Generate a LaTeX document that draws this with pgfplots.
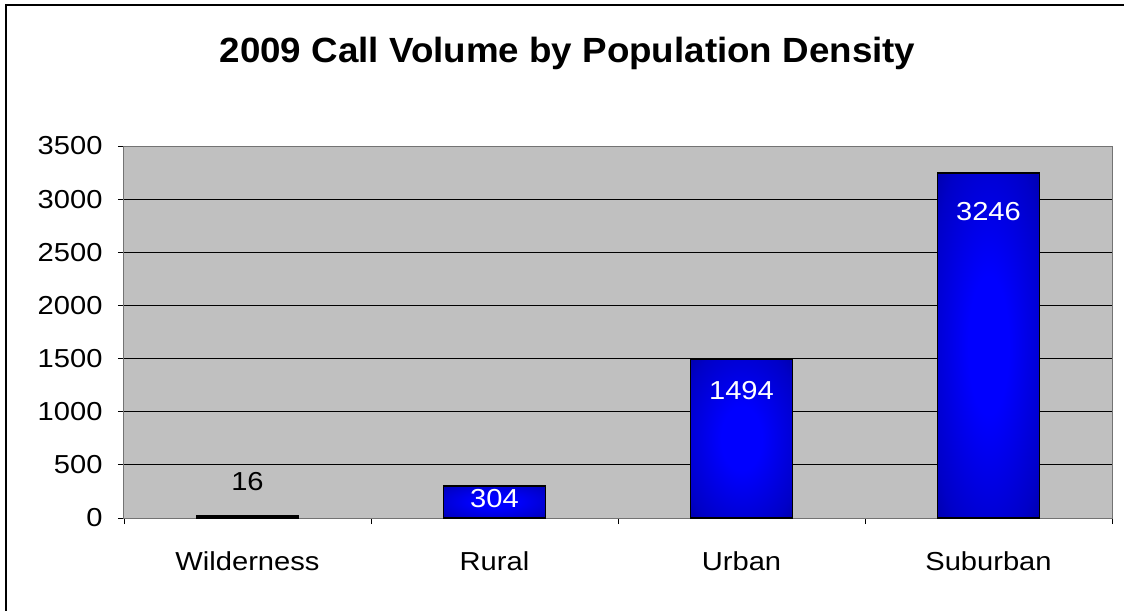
\documentclass[border=0pt]{standalone}
\usepackage{fontspec}
\setmainfont[FakeStretch=1.12]{Liberation Sans}
\newfontfamily\titlefont[FakeStretch=1.05]{Liberation Sans}
\usepackage{pgfplots}
\pgfplotsset{compat=1.18}
\definecolor{plotbg}{RGB}{192,192,192}
\definecolor{barin}{RGB}{0,0,255}
\definecolor{barmid}{RGB}{0,0,200}
\definecolor{barout}{RGB}{0,0,110}
\pgfdeclareradialshading{barshade}{\pgfpoint{0bp}{0bp}}{color(0bp)=(barin); color(10bp)=(barin); color(30bp)=(barmid); color(50bp)=(barout)}

\begin{document}
\begin{tikzpicture}
\useasboundingbox (-124pt,-93pt) rectangle (1000pt,518pt);
\draw[line width=1.8pt] (1000pt,513pt) -- (-118pt,513pt) -- (-118pt,-93pt);
\begin{axis}[
  at={(0pt,0pt)}, anchor=south west,
  scale only axis, width=988pt, height=372pt,
  xmin=-0.5, xmax=3.5, ymin=0, ymax=3500,
  ytick={0,500,...,3500},
  xtick={-0.5,0.5,1.5,2.5,3.5},
  xticklabels={},
  extra x ticks={0,1,2,3},
  extra x tick labels={Wilderness,Rural,Urban,Suburban},
  extra x tick style={major tick length=0pt, grid=none},
  tick align=outside, tick pos=left,
  major tick length=6pt,
  tick style={black, line width=0.8pt},
  ymajorgrids, grid style={black, line width=0.8pt},
  axis background/.style={fill=plotbg},
  axis line style={black!55, line width=1pt},
  /pgf/number format/assume math mode=true,
  /pgf/number format/1000 sep={},
  tick label style={font=\fontsize{26}{30}\selectfont},
  yticklabel style={xshift=-12pt},
  xticklabel style={yshift=-30pt},
  bardef/.style={ybar, bar width=102pt, bar shift=0pt, draw=black, line width=1.8pt,
    shading=barshade, postaction={draw=black, line width=1.8pt},
    nodes near coords={\pgfmathprintnumber[fixed,precision=0,1000 sep={}]{\pgfplotspointmeta}},
    every node near coord/.append style={anchor=center, font=\fontsize{26}{30}\selectfont}},
]
\addplot[bardef, every node near coord/.append style={text=black, yshift=34.6pt}] coordinates {(0,16)};
\addplot[bardef, every node near coord/.append style={text=white, yshift=-12.5pt}] coordinates {(1,304)};
\addplot[bardef, every node near coord/.append style={text=white, yshift=-31.3pt}] coordinates {(2,1494)};
\addplot[bardef, every node near coord/.append style={text=white, yshift=-38.5pt}] coordinates {(3,3246)};
\end{axis}
\node[anchor=base, font=\titlefont\fontsize{35}{38}\selectfont\bfseries] at (443.5pt,455pt) {2009 Call Volume by Population Density};
\end{tikzpicture}
\end{document}
